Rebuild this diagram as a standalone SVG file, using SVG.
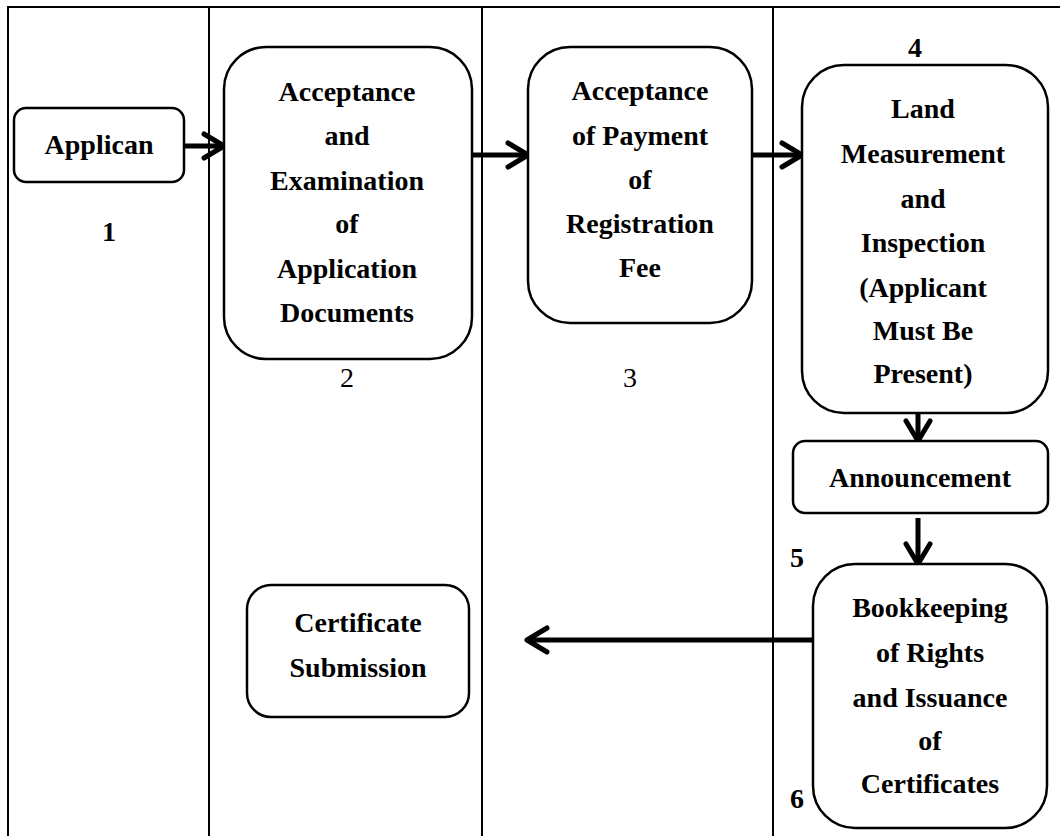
<svg xmlns="http://www.w3.org/2000/svg" width="1060" height="836" viewBox="0 0 1060 836">
<style>
.frame{stroke:#000;stroke-width:2;fill:none}
.box{fill:#fff;stroke:#000;stroke-width:2.5}
.t{font-family:"Liberation Serif",serif;font-weight:bold;font-size:28px;text-anchor:middle;fill:#000}
.n{font-family:"Liberation Serif",serif;font-size:28px;text-anchor:middle;fill:#000}
.conn{stroke:#000;stroke-width:5;fill:none}
</style>
<defs>
<marker id="ah" markerUnits="userSpaceOnUse" markerWidth="34" markerHeight="34" viewBox="-26 -17 34 34" refX="-2" refY="0" orient="auto">
<path d="M-22,-12 L-2,0 L-22,12" fill="none" stroke="#000" stroke-width="5" stroke-linecap="round" stroke-linejoin="round"/>
</marker>
</defs>
<g id="lanes">
<line class="frame" x1="7" y1="7" x2="1060" y2="7"/>
<line class="frame" x1="8" y1="6" x2="8" y2="836"/>
<line class="frame" x1="209" y1="7" x2="209" y2="836"/>
<line class="frame" x1="482" y1="7" x2="482" y2="836"/>
<line class="frame" x1="773" y1="7" x2="773" y2="836"/>
</g>
<g id="connectors">
<line class="conn" x1="184" y1="146" x2="224" y2="146" marker-end="url(#ah)"/>
<line class="conn" x1="472" y1="155" x2="528" y2="155" marker-end="url(#ah)"/>
<line class="conn" x1="752" y1="155" x2="802" y2="155" marker-end="url(#ah)"/>
<line class="conn" x1="918" y1="413" x2="918" y2="441" marker-end="url(#ah)"/>
<line class="conn" x1="918" y1="518" x2="918" y2="564" marker-end="url(#ah)"/>
<line class="conn" x1="813" y1="640" x2="527" y2="640" marker-end="url(#ah)"/>
</g>
<g id="node1">
<rect class="box" x="14" y="108" width="170" height="74" rx="12"/>
<text class="t" x="99" y="154">Applican</text>
<text class="t" x="109" y="241">1</text>
</g>
<g id="node2">
<rect class="box" x="224" y="47" width="248" height="312" rx="42"/>
<text class="t" x="347" y="101">Acceptance</text>
<text class="t" x="347" y="145">and</text>
<text class="t" x="347" y="190">Examination</text>
<text class="t" x="347" y="233">of</text>
<text class="t" x="347" y="278">Application</text>
<text class="t" x="347" y="322">Documents</text>
<text class="n" x="347" y="387">2</text>
</g>
<g id="node3">
<rect class="box" x="528" y="47" width="224" height="276" rx="42"/>
<text class="t" x="640" y="100">Acceptance</text>
<text class="t" x="640" y="145">of Payment</text>
<text class="t" x="640" y="189">of</text>
<text class="t" x="640" y="233">Registration</text>
<text class="t" x="640" y="277">Fee</text>
<text class="n" x="630" y="387">3</text>
</g>
<g id="node4">
<text class="t" x="915" y="57">4</text>
<rect class="box" x="802" y="65" width="246" height="348" rx="42"/>
<text class="t" x="923" y="118">Land</text>
<text class="t" x="923" y="163">Measurement</text>
<text class="t" x="923" y="208">and</text>
<text class="t" x="923" y="252">Inspection</text>
<text class="t" x="923" y="297">(Applicant</text>
<text class="t" x="923" y="340">Must Be</text>
<text class="t" x="923" y="383">Present)</text>
</g>
<g id="node5">
<rect class="box" x="793" y="441" width="255" height="72" rx="12"/>
<text class="t" x="920" y="487">Announcement</text>
</g>
<g id="node6">
<text class="t" x="797" y="567">5</text>
<text class="t" x="797" y="808">6</text>
<rect class="box" x="813" y="564" width="234" height="264" rx="42"/>
<text class="t" x="930" y="617">Bookkeeping</text>
<text class="t" x="930" y="662">of Rights</text>
<text class="t" x="930" y="707">and Issuance</text>
<text class="t" x="930" y="750">of</text>
<text class="t" x="930" y="793">Certificates</text>
</g>
<g id="node7">
<rect class="box" x="247" y="585" width="222" height="132" rx="24"/>
<text class="t" x="358" y="632">Certificate</text>
<text class="t" x="358" y="677">Submission</text>
</g>
</svg>
